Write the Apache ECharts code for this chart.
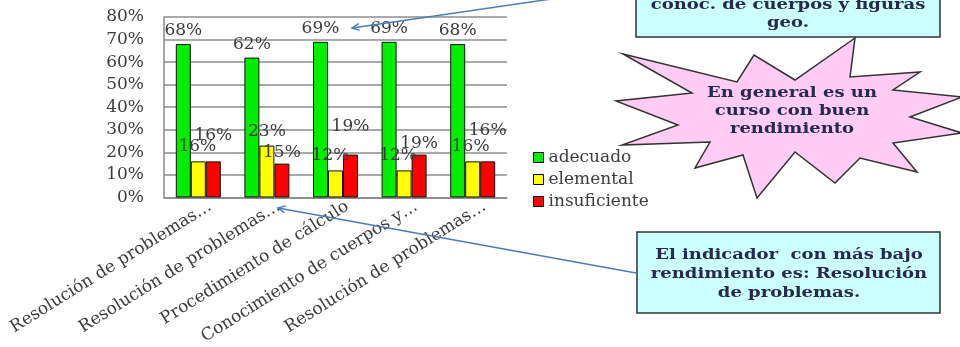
<!DOCTYPE html>
<html>
<head>
<meta charset="utf-8">
<script src="https://cdn.jsdelivr.net/npm/echarts@6/dist/echarts.min.js"></script>
<style>
html,body{margin:0;padding:0;background:#fff;}
#chart{width:960px;height:347px;}
</style>
</head>
<body>
<div id="chart"></div>
<script>
// ---- data ----
const categories = ['Resolución de problemas…','Resolución de problemas…','Procedimiento de cálculo','Conocimiento de cuerpos y…','Resolución de problemas…'];
const seriesNames = ['adecuado','elemental','insuficiente'];
const adecuado = [68, 62, 69, 69, 68];
const elemental = [16, 23, 12, 12, 16];
const insuficiente = [16, 15, 19, 19, 16];
const yTicks = [0, 10, 20, 30, 40, 50, 60, 70, 80];

// ---- styling (label nudges, not data) ----
const redLabelLift = [-14, 0, -17, 0, -19];
const yellowLabelShift = [-1, 0, -5, -6, -2];

const FONT = '"DejaVu Serif", "Liberation Serif", serif';
const TXT = '#3c3c3c';
const NAVY = '#262b4d';

const chart = echarts.init(document.getElementById('chart'), null, {renderer:'canvas'});

function mkData(vals, shiftX, liftY){
  return vals.map((v,i)=>({
    value: v,
    label: { offset: [shiftX ? shiftX[i] : 0, liftY ? liftY[i] : 0] }
  }));
}

const labelBase = {
  show: true, position: 'top', formatter: '{c}%',
  fontFamily: FONT, fontSize: 17, color: TXT
};

// arrow helper
function arrow(x1,y1,x2,y2){
  const dx=x2-x1, dy=y2-y1, L=Math.hypot(dx,dy);
  const bx=-dx/L, by=-dy/L, len=8, a=0.45;
  const c=Math.cos(a), s=Math.sin(a);
  const p1=[x2+len*(bx*c-by*s), y2+len*(bx*s+by*c)];
  const p2=[x2+len*(bx*c+by*s), y2+len*(-bx*s+by*c)];
  return [
    {type:'line', shape:{x1,y1,x2,y2}, style:{stroke:'#4a7ebb', lineWidth:1.5}, z:100},
    {type:'polyline', shape:{points:[p1,[x2,y2],p2]}, style:{stroke:'#4a7ebb', lineWidth:1.5, fill:null}, z:100}
  ];
}

const starPts = [
  [623,54],[737,82],[754,55],[795,80],[855,38],[850,77],[920,72],[893,90],
  [962,97],[910,117],[962,133],[893,143],[917,172],[860,158],[835,183],[795,152],
  [757,198],[743,155],[695,168],[710,142],[622,145],[678,125],[616,101],[692,93]
];

function textLines(lines, cx, y0, dy){
  return lines.map((t,i)=>({
    type:'text', z:60,
    x: cx, y: y0+i*dy, scaleX: 1.2, scaleY: 1,
    style:{text:t, x:0, y:0, align:'center', verticalAlign:'middle',
      font:'bold 15px ' + FONT, fill:NAVY}
  }));
}

const graphics = [
  // top callout box
  {type:'rect', shape:{x:636,y:-30,width:304,height:67}, style:{fill:'#ccffff', stroke:'#333', lineWidth:1.5}, z:50},
  ...textLines(['conoc. de cuerpos y figuras','geo.'], 788, 5, 18),
  // star
  {type:'polygon', shape:{points:starPts}, style:{fill:'#ffccf5', stroke:'#333', lineWidth:1.5}, z:50},
  ...textLines(['En general es un','curso con buen','rendimiento'], 792, 93, 18),
  // lower box
  {type:'rect', shape:{x:637,y:232,width:303,height:81}, style:{fill:'#ccffff', stroke:'#333', lineWidth:1.5}, z:50},
  ...textLines(['El indicador  con más bajo','rendimiento es: Resolución','de problemas.'], 789, 255, 19),
  ...arrow(565,-3,352,28),
  ...arrow(636,273,278,208)
];

const option = {
  animation: false,
  backgroundColor: '#fff',
  grid: { left: 164, right: 453, top: 17, bottom: 149, containLabel: false },
  legend: {
    orient: 'vertical', left: 528, top: 144,
    itemWidth: 10, itemHeight: 10, itemGap: 5,
    icon: 'rect',
    itemStyle: { borderColor: '#000', borderWidth: 1 },
    textStyle: { fontFamily: FONT, fontSize: 17, color: TXT },
    data: seriesNames
  },
  xAxis: {
    type: 'category', data: categories,
    axisLine: { show: true, lineStyle: { color: '#888', width: 1.5 } },
    axisTick: { show: false },
    axisLabel: { interval: 0, rotate: 32, margin: 15, padding: [0, -14, 0, 0],
      fontFamily: FONT, fontSize: 17, color: TXT }
  },
  yAxis: {
    type: 'value', min: yTicks[0], max: yTicks[yTicks.length-1], interval: yTicks[1]-yTicks[0],
    axisLine: { show: true, lineStyle: { color: '#888', width: 1.5 } },
    axisTick: { show: false },
    splitLine: { show: true, lineStyle: { color: '#8c8c8c', width: 1.5 } },
    axisLabel: { margin: 20, fontFamily: FONT, fontSize: 17, color: TXT, formatter: '{value}%' }
  },
  series: [
    { name: seriesNames[0], type: 'bar', barWidth: 15, barGap: '0%',
      itemStyle: { color: '#00ee00', borderColor: '#111', borderWidth: 1 },
      label: Object.assign({}, labelBase, { distance: 5 }),
      data: mkData(adecuado) },
    { name: seriesNames[1], type: 'bar', barWidth: 15, barGap: '0%',
      itemStyle: { color: '#ffff00', borderColor: '#111', borderWidth: 1 },
      label: Object.assign({}, labelBase, { distance: 6 }),
      data: mkData(elemental, yellowLabelShift, null) },
    { name: seriesNames[2], type: 'bar', barWidth: 15, barGap: '0%',
      itemStyle: { color: '#ff0000', borderColor: '#111', borderWidth: 1 },
      label: Object.assign({}, labelBase, { distance: 3 }),
      data: mkData(insuficiente, null, redLabelLift) }
  ],
  graphic: graphics
};
chart.setOption(option);
</script>
</body>
</html>
